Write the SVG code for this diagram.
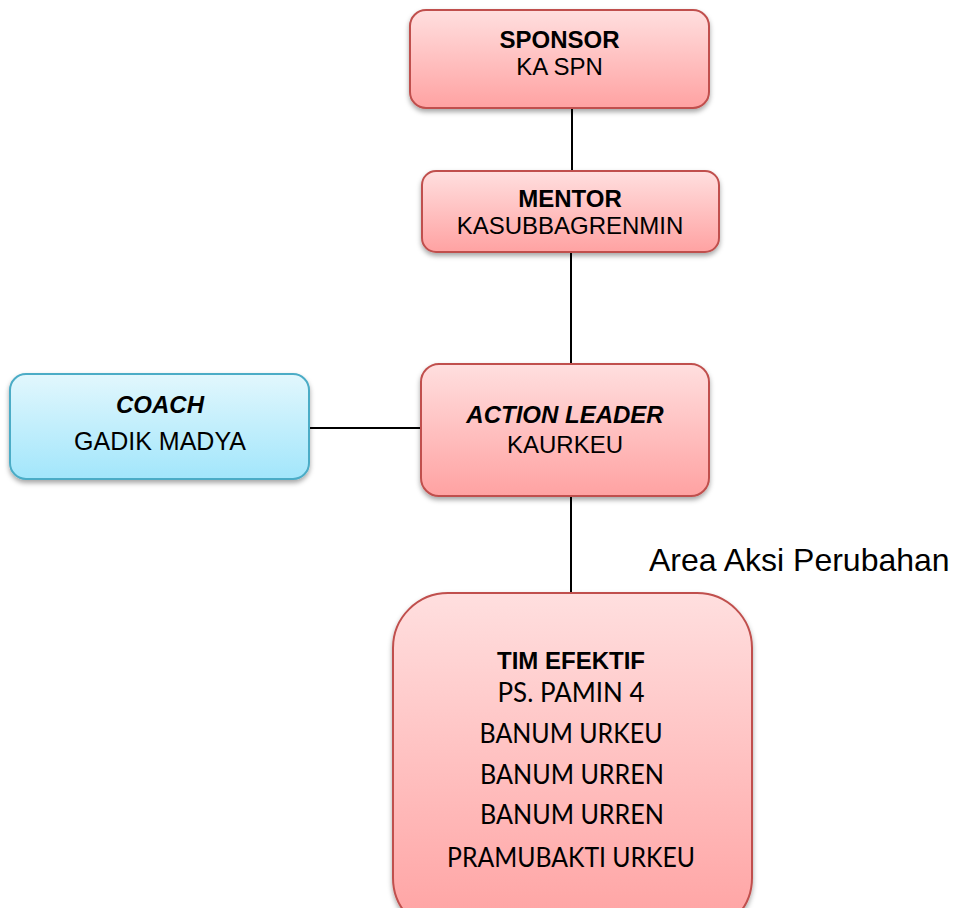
<svg xmlns="http://www.w3.org/2000/svg" width="955" height="908" viewBox="0 0 955 908">
<defs>
<linearGradient id="red" x1="0" y1="0" x2="0" y2="1">
<stop offset="0" stop-color="#ffdfdf"/>
<stop offset="1" stop-color="#ffa2a2"/>
</linearGradient>
<linearGradient id="blue" x1="0" y1="0" x2="0" y2="1">
<stop offset="0" stop-color="#e2f7fd"/>
<stop offset="1" stop-color="#a2e6fb"/>
</linearGradient>
<filter id="sh" x="-10%" y="-10%" width="120%" height="130%">
<feDropShadow dx="0" dy="3" stdDeviation="2.5" flood-color="#000" flood-opacity="0.35"/>
</filter>
</defs>
<style>
.r{fill:url(#red);stroke:#c0504d;stroke-width:2;filter:url(#sh)}
.b{fill:url(#blue);stroke:#4bacc6;stroke-width:2;filter:url(#sh)}
.t{font-family:"Liberation Sans",Arial,sans-serif;font-size:24px;fill:#000;text-anchor:middle}
.bd{font-weight:bold}
.it{font-style:italic;font-weight:bold}
.c{font-family:Lato,"Liberation Sans",sans-serif;font-size:26px;fill:#000;text-anchor:middle}
.ln{stroke:#000;stroke-width:2;fill:none}
</style>
<g id="connectors">
<line class="ln" x1="572" y1="108" x2="572" y2="171"/>
<line class="ln" x1="571" y1="252" x2="571" y2="364"/>
<line class="ln" x1="309" y1="428" x2="421" y2="428"/>
<line class="ln" x1="571" y1="496" x2="571" y2="593"/>
</g>
<g id="sponsor">
<rect class="r" x="410" y="10" width="299" height="98" rx="16"/>
<text class="t bd" x="559.5" y="48">SPONSOR</text>
<text class="t" x="559.5" y="75">KA SPN</text>
</g>
<g id="mentor">
<rect class="r" x="422" y="171" width="297" height="81" rx="14"/>
<text class="t bd" x="570" y="207">MENTOR</text>
<text class="t" x="570" y="234">KASUBBAGRENMIN</text>
</g>
<g id="coach">
<rect class="b" x="10" y="374" width="299" height="105" rx="16"/>
<text class="t it" x="160" y="413">COACH</text>
<text class="t" x="160" y="450" style="font-size:25px">GADIK MADYA</text>
</g>
<g id="action-leader">
<rect class="r" x="421" y="364" width="288" height="132" rx="18"/>
<text class="t it" x="565" y="423">ACTION LEADER</text>
<text class="t" x="565" y="453">KAURKEU</text>
</g>
<g id="area-label">
<text x="649" y="571" style="font-family:'Liberation Sans',Arial,sans-serif;font-size:32px;fill:#000">Area Aksi Perubahan</text>
</g>
<g id="tim-efektif">
<rect class="r" x="393" y="593" width="359" height="340" rx="55"/>
<text class="t bd" x="571" y="669">TIM EFEKTIF</text>
<text class="c" x="571" y="702" textLength="147" lengthAdjust="spacingAndGlyphs">PS. PAMIN 4</text>
<text class="c" x="571" y="743" textLength="183" lengthAdjust="spacingAndGlyphs">BANUM URKEU</text>
<text class="c" x="572" y="784" textLength="184" lengthAdjust="spacingAndGlyphs">BANUM URREN</text>
<text class="c" x="572" y="824" textLength="184" lengthAdjust="spacingAndGlyphs">BANUM URREN</text>
<text class="c" x="571" y="867" textLength="248" lengthAdjust="spacingAndGlyphs">PRAMUBAKTI URKEU</text>
</g>
</svg>
